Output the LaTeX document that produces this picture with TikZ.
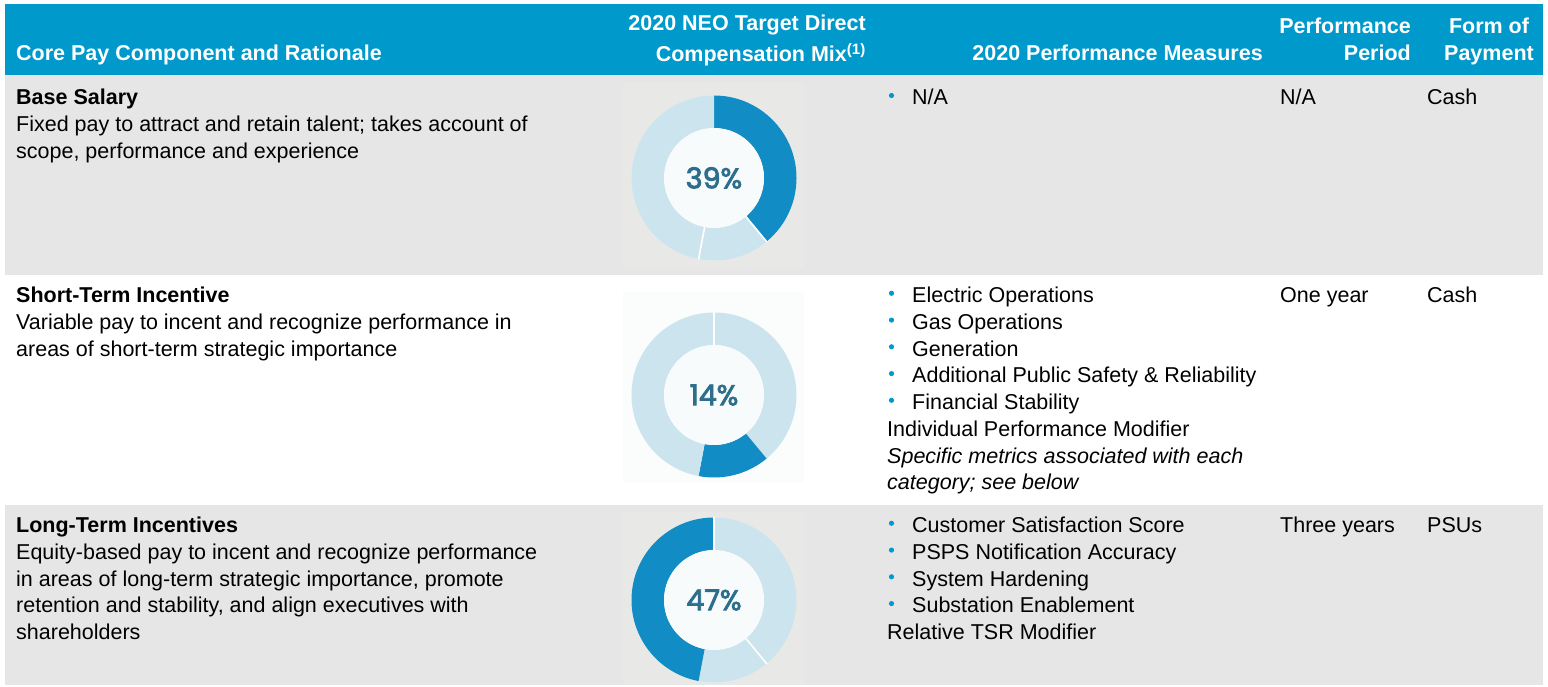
\documentclass[tikz,border=0pt]{standalone}
\usepackage{fontspec}
\setmainfont{Liberation Sans}
\newfontfamily\pctfont[FakeBold=3]{Poppins}
\definecolor{hdrblue}{RGB}{0,153,204}
\definecolor{rowgray}{RGB}{230,230,230}
\definecolor{imggray}{RGB}{232,233,231}
\definecolor{imgwhite}{RGB}{251,252,252}
\definecolor{darkseg}{RGB}{18,140,196}
\definecolor{lightseg}{RGB}{204,228,238}
\definecolor{pcttext}{RGB}{45,110,140}
\definecolor{bulblue}{RGB}{0,153,204}
\definecolor{innerw}{RGB}{248,251,252}
\newcommand{\ringseg}[5]{%
  \fill[#5] ([shift={(#3:82.5)}]#1,#2) arc[start angle=#3,end angle=#4,radius=82.5]
    -- ([shift={(#4:50)}]#1,#2) arc[start angle=#4,end angle=#3,radius=50] -- cycle;}
\newcommand{\ringdiv}[3]{%
  \draw[white, line width=1.6pt] ([shift={(#3:50)}]#1,#2) -- ([shift={(#3:83)}]#1,#2);}
\begin{document}
\begin{tikzpicture}[x=1pt,y=1pt,
  txt/.style={anchor=base west, inner sep=0pt, font=\fontsize{21.5}{26.8}\selectfont, text=black},
  txtb/.style={txt, font=\fontsize{21.5}{26.8}\selectfont\bfseries},
  txti/.style={txt, font=\fontsize{21.5}{26.8}\selectfont\itshape},
  hdr/.style={inner sep=0pt, font=\fontsize{21.5}{26.8}\selectfont\bfseries, text=white},
  bul/.style={circle, fill=bulblue, inner sep=0pt, minimum size=5.2pt},
  pct/.style={font=\pctfont\fontsize{28.5}{30}\selectfont, text=pcttext, inner sep=0pt}
]
\useasboundingbox (0,0) rectangle (1548,-687);
\fill[white] (0,0) rectangle (1548,-687);
% bands
\fill[hdrblue] (5,-4) rectangle (1543,-75);
\fill[rowgray] (5,-75) rectangle (1543,-275);
\fill[rowgray] (5,-505) rectangle (1543,-685);
% header
\node[hdr, anchor=base west] (h1) at (16,-61) {Core Pay Component and Rationale};
\node[hdr, anchor=base east] (h2a) at (866,-30.5) {2020 NEO Target Direct};
\node[hdr, anchor=base east] (h2b) at (866,-62) {Compensation Mix\textsuperscript{(1)}};
\node[hdr, anchor=base east] (h3) at (1263,-61) {2020 Performance Measures};
\node[hdr, anchor=base east] (h4a) at (1411,-34) {Performance};
\node[hdr, anchor=base east] (h4b) at (1411,-61) {Period};
\node[hdr, anchor=base] (h5a) at (1489,-34) {Form of};
\node[hdr, anchor=base] (h5b) at (1489,-61) {Payment};
% image backgrounds
\fill[imggray] (623,-82) rectangle (804,-268);
\fill[imgwhite] (623,-292) rectangle (804,-482);
\fill[imggray] (623,-512) rectangle (804,-685);
% donut 1 (39%)
\ringseg{714}{-178}{90}{-50.4}{darkseg}
\ringseg{714}{-178}{-50.4}{-270}{lightseg}
\fill[innerw] (714,-178) circle (50);
\ringdiv{714}{-178}{-50.4}\ringdiv{714}{-178}{-100.8}
\node[pct] (p1) at (714,-178) {39\%};
% donut 2 (14%)
\ringseg{714}{-395}{90}{-50.4}{lightseg}
\ringseg{714}{-395}{-50.4}{-100.8}{darkseg}
\ringseg{714}{-395}{-100.8}{-270}{lightseg}
\fill[innerw] (714,-395) circle (50);
\ringdiv{714}{-395}{90}
\node[pct] (p2) at (714,-395) {14\%};
% donut 3 (47%)
\ringseg{714}{-600}{90}{-100.8}{lightseg}
\ringseg{714}{-600}{-100.8}{-270}{darkseg}
\fill[innerw] (714,-600) circle (50);
\ringdiv{714}{-600}{90}\ringdiv{714}{-600}{-50.4}
\node[pct] (p3) at (714,-600) {47\%};
% row 1
\node[txtb] (r1a) at (16,-104.7) {Base Salary};
\node[txt] (r1b) at (16,-131.5) {Fixed pay to attract and retain talent; takes account of};
\node[txt] (r1c) at (16,-158.3) {scope, performance and experience};
\node[bul] (b11) at (891.5,-95.5) {};
\node[txt] (m11) at (912,-104.7) {N/A};
\node[txt] (q1) at (1280,-104.7) {N/A};
\node[txt] (f1) at (1427,-104.7) {Cash};
% row 2
\node[txtb] (r2a) at (16,-302.5) {Short-Term Incentive};
\node[txt] (r2b) at (16,-329.3) {Variable pay to incent and recognize performance in};
\node[txt] (r2c) at (16,-356.0) {areas of short-term strategic importance};
\node[bul] (b21) at (891.5,-293.3) {};
\node[txt] (m21) at (912,-302.5) {Electric Operations};
\node[bul] (b22) at (891.5,-320.1) {};
\node[txt] (m22) at (912,-329.3) {Gas Operations};
\node[bul] (b23) at (891.5,-346.8) {};
\node[txt] (m23) at (912,-356.0) {Generation};
\node[bul] (b24) at (891.5,-373.6) {};
\node[txt] (m24) at (912,-382.8) {Additional Public Safety \& Reliability};
\node[bul] (b25) at (891.5,-400.3) {};
\node[txt] (m25) at (912,-409.5) {Financial Stability};
\node[txt] (m26) at (887,-436.3) {Individual Performance Modifier};
\node[txti] (m27) at (887,-463.0) {Specific metrics associated with each};
\node[txti] (m28) at (887,-489.8) {category; see below};
\node[txt] (q2) at (1280,-302.5) {One year};
\node[txt] (f2) at (1427,-302.5) {Cash};
% row 3
\node[txtb] (r3a) at (16,-532.5) {Long-Term Incentives};
\node[txt] (r3b) at (16,-559.3) {Equity-based pay to incent and recognize performance};
\node[txt] (r3c) at (16,-586.0) {in areas of long-term strategic importance, promote};
\node[txt] (r3d) at (16,-612.8) {retention and stability, and align executives with};
\node[txt] (r3e) at (16,-639.5) {shareholders};
\node[bul] (b31) at (891.5,-523.3) {};
\node[txt] (m31) at (912,-532.5) {Customer Satisfaction Score};
\node[bul] (b32) at (891.5,-550.1) {};
\node[txt] (m32) at (912,-559.3) {PSPS Notification Accuracy};
\node[bul] (b33) at (891.5,-576.8) {};
\node[txt] (m33) at (912,-586.0) {System Hardening};
\node[bul] (b34) at (891.5,-603.6) {};
\node[txt] (m34) at (912,-612.8) {Substation Enablement};
\node[txt] (m35) at (887,-639.5) {Relative TSR Modifier};
\node[txt] (q3) at (1280,-532.5) {Three years};
\node[txt] (f3) at (1427,-532.5) {PSUs};
\end{tikzpicture}
\end{document}
